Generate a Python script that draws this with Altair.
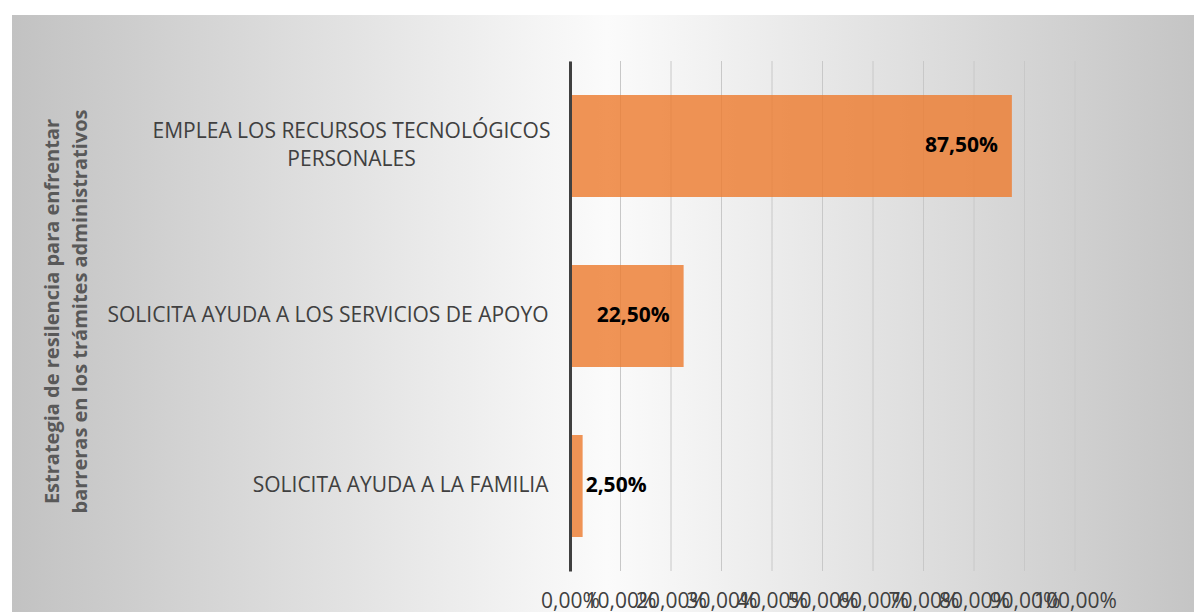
import altair as alt
import pandas as pd

categories = [
    "EMPLEA LOS RECURSOS TECNOLÓGICOS PERSONALES",
    "SOLICITA AYUDA A LOS SERVICIOS DE APOYO",
    "SOLICITA AYUDA A LA FAMILIA",
]
values = [0.875, 0.225, 0.025]
value_labels = ["87,50%", "22,50%", "2,50%"]
axis_title = ["Estrategia de resilencia para enfrentar", "barreras en los trámites administrativos"]
x_ticks = [0.0, 0.1, 0.2, 0.3, 0.4, 0.5, 0.6, 0.7, 0.8, 0.9, 1.0]

df = pd.DataFrame({"cat": categories, "value": values, "label": value_labels})
grid_df = pd.DataFrame({"tick": x_ticks})

FONT = "Open Sans"
TXT = "#404040"
first_test = "datum.value == 'EMPLEA LOS RECURSOS TECNOLÓGICOS PERSONALES'"

y_enc = alt.Y(
    "cat:N",
    sort=categories,
    scale=alt.Scale(paddingInner=0.4, paddingOuter=0.2),
    axis=alt.Axis(
        title=axis_title,
        titleFont=FONT,
        titleFontSize=20,
        titleFontWeight="bold",
        titleColor="#595959",
        titleAngle=-90,
        titleX=-508,
        titleY=250,
        titleAlign="center",
        titleBaseline="bottom",
        titleLineHeight=28,
        labelFont=FONT,
        labelFontSize=21,
        labelColor=TXT,
        labelLimit=600,
        labelPadding={"condition": {"test": first_test, "value": 219}, "value": 22},
        labelAlign={"condition": {"test": first_test, "value": "center"}, "value": "right"},
        labelOffset={"condition": {"test": first_test, "value": -14}, "value": 0},
        labelLineHeight=28,
        labelExpr=first_test + " ? ['EMPLEA LOS RECURSOS TECNOLÓGICOS', 'PERSONALES'] : datum.label",
        ticks=False,
        domain=True,
        domainColor="#404040",
        domainWidth=3,
        grid=False,
        zindex=2,
    ),
)

x_enc = alt.X(
    "value:Q",
    scale=alt.Scale(domain=[0, 1]),
    axis=alt.Axis(
        title=None,
        values=x_ticks,
        labelExpr="replace(format(datum.value, '.2%'), '.', ',')",
        labelFont=FONT,
        labelFontSize=21,
        labelColor=TXT,
        labelOverlap=False,
        labelBound=False,
        labelFlush=False,
        labelPadding=19,
        ticks=False,
        domain=False,
        grid=False,
        zindex=2,
    ),
)

background = alt.Chart(df).mark_rect(
    color=alt.Gradient(
        gradient="linear",
        x1=0, y1=0, x2=1, y2=0,
        stops=[
            alt.GradientStop(offset=0, color="#c2c2c2"),
            alt.GradientStop(offset=0.5, color="#fbfbfb"),
            alt.GradientStop(offset=1, color="#c4c4c4"),
        ],
    ),
    clip=False,
).encode(
    x=alt.value(-558), x2=alt.value(632),
    y=alt.value(-46), y2=alt.value(570),
)

grid = alt.Chart(grid_df).mark_rule(color="#c8c8c8", strokeWidth=1).encode(
    x=alt.X("tick:Q", scale=alt.Scale(domain=[0, 1])),
    y=alt.value(0), y2=alt.value(510),
)

bars = alt.Chart(df).mark_bar(color="#ED7D31", opacity=0.82).encode(x=x_enc, y=y_enc)

text_in = alt.Chart(df).transform_filter("datum.value >= 0.1").mark_text(
    align="right", dx=-14, font=FONT, fontSize=21, fontWeight="bold", color="#000000"
).encode(x="value:Q", y=alt.Y("cat:N", sort=categories), text="label:N")

text_out = alt.Chart(df).transform_filter("datum.value < 0.1").mark_text(
    align="left", dx=3, font=FONT, fontSize=21, fontWeight="bold", color="#000000"
).encode(x="value:Q", y=alt.Y("cat:N", sort=categories), text="label:N")

chart = alt.layer(background, grid, bars, text_in, text_out).properties(
    width=505,
    height=510,
    autosize=alt.AutoSizeParams(type="none"),
    padding={"left": 562, "top": 53, "right": 119, "bottom": 41},
    background="white",
).configure_view(stroke=None)

chart.save("out.html", embed_options={"renderer": "svg", "actions": False})
